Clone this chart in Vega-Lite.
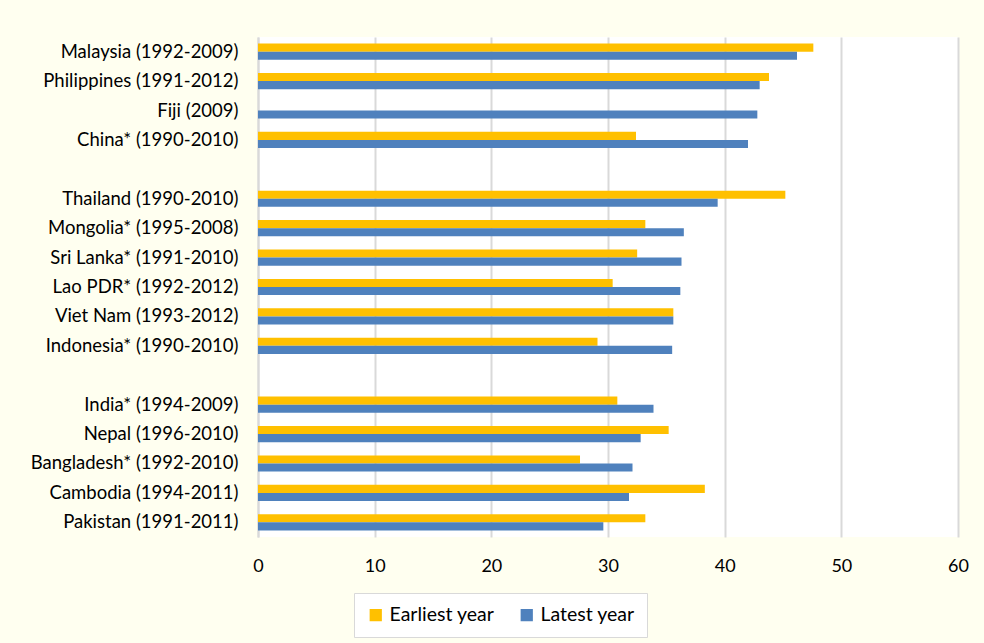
{
  "$schema": "https://vega.github.io/schema/vega-lite/v6.json",
  "width": 700,
  "height": 500,
  "autosize": {"type": "none"},
  "padding": {"left": 258, "top": 37, "right": 26, "bottom": 106},
  "background": "#FFFFF0",
  "config": {
    "view": {"fill": "white", "stroke": null},
    "font": "Lato"
  },
  "data": {
    "values": [
      {"country": "Malaysia (1992-2009)", "series": "Earliest year", "value": 47.6},
      {"country": "Malaysia (1992-2009)", "series": "Latest year", "value": 46.2},
      {"country": "Philippines (1991-2012)", "series": "Earliest year", "value": 43.8},
      {"country": "Philippines (1991-2012)", "series": "Latest year", "value": 43.0},
      {"country": "Fiji (2009)", "series": "Latest year", "value": 42.8},
      {"country": "China* (1990-2010)", "series": "Earliest year", "value": 32.4},
      {"country": "China* (1990-2010)", "series": "Latest year", "value": 42.0},
      {"country": "Thailand (1990-2010)", "series": "Earliest year", "value": 45.2},
      {"country": "Thailand (1990-2010)", "series": "Latest year", "value": 39.4},
      {"country": "Mongolia* (1995-2008)", "series": "Earliest year", "value": 33.2},
      {"country": "Mongolia* (1995-2008)", "series": "Latest year", "value": 36.5},
      {"country": "Sri Lanka* (1991-2010)", "series": "Earliest year", "value": 32.5},
      {"country": "Sri Lanka* (1991-2010)", "series": "Latest year", "value": 36.3},
      {"country": "Lao PDR* (1992-2012)", "series": "Earliest year", "value": 30.4},
      {"country": "Lao PDR* (1992-2012)", "series": "Latest year", "value": 36.2},
      {"country": "Viet Nam (1993-2012)", "series": "Earliest year", "value": 35.6},
      {"country": "Viet Nam (1993-2012)", "series": "Latest year", "value": 35.6},
      {"country": "Indonesia* (1990-2010)", "series": "Earliest year", "value": 29.1},
      {"country": "Indonesia* (1990-2010)", "series": "Latest year", "value": 35.5},
      {"country": "India* (1994-2009)", "series": "Earliest year", "value": 30.8},
      {"country": "India* (1994-2009)", "series": "Latest year", "value": 33.9},
      {"country": "Nepal (1996-2010)", "series": "Earliest year", "value": 35.2},
      {"country": "Nepal (1996-2010)", "series": "Latest year", "value": 32.8},
      {"country": "Bangladesh* (1992-2010)", "series": "Earliest year", "value": 27.6},
      {"country": "Bangladesh* (1992-2010)", "series": "Latest year", "value": 32.1},
      {"country": "Cambodia (1994-2011)", "series": "Earliest year", "value": 38.3},
      {"country": "Cambodia (1994-2011)", "series": "Latest year", "value": 31.8},
      {"country": "Pakistan (1991-2011)", "series": "Earliest year", "value": 33.2},
      {"country": "Pakistan (1991-2011)", "series": "Latest year", "value": 29.6}
    ]
  },
  "mark": {"type": "bar"},
  "encoding": {
    "y": {
      "field": "country",
      "type": "nominal",
      "scale": {
        "domain": [
          "Malaysia (1992-2009)", "Philippines (1991-2012)", "Fiji (2009)", "China* (1990-2010)", " ",
          "Thailand (1990-2010)", "Mongolia* (1995-2008)", "Sri Lanka* (1991-2010)", "Lao PDR* (1992-2012)", "Viet Nam (1993-2012)", "Indonesia* (1990-2010)", "  ",
          "India* (1994-2009)", "Nepal (1996-2010)", "Bangladesh* (1992-2010)", "Cambodia (1994-2011)", "Pakistan (1991-2011)"
        ],
        "paddingInner": 0.45,
        "paddingOuter": 0.225
      },
      "axis": {
        "title": null,
        "ticks": false,
        "domain": true,
        "domainColor": "#D9D9D9",
        "domainWidth": 2,
        "labelFontSize": 18.5,
        "labelColor": "#000000",
        "labelPadding": 20,
        "labelLimit": 300
      }
    },
    "yOffset": {
      "field": "series",
      "type": "nominal",
      "sort": ["Earliest year", "Latest year"],
      "scale": {"paddingInner": 0, "paddingOuter": 0}
    },
    "x": {
      "field": "value",
      "type": "quantitative",
      "scale": {"domain": [0, 60], "nice": false},
      "axis": {
        "title": null,
        "values": [0, 10, 20, 30, 40, 50, 60],
        "ticks": false,
        "domain": false,
        "grid": true,
        "gridColor": "#D9D9D9",
        "gridWidth": 2,
        "labelFontSize": 18,
        "labelColor": "#000000",
        "labelPadding": 20,
        "labelFlush": false
      }
    },
    "color": {
      "field": "series",
      "type": "nominal",
      "scale": {"domain": ["Earliest year", "Latest year"], "range": ["#FFC000", "#4F81BD"]},
      "legend": {
        "title": null,
        "orient": "none",
        "direction": "horizontal",
        "legendX": 96,
        "legendY": 556,
        "fillColor": "white",
        "strokeColor": "#D9D9D9",
        "padding": 12,
        "symbolType": "square",
        "symbolSize": 150,
        "symbolStrokeWidth": 0,
        "labelFontSize": 19.5,
        "labelColor": "#000000",
        "columnPadding": 22,
        "labelOffset": 4
      }
    }
  }
}
